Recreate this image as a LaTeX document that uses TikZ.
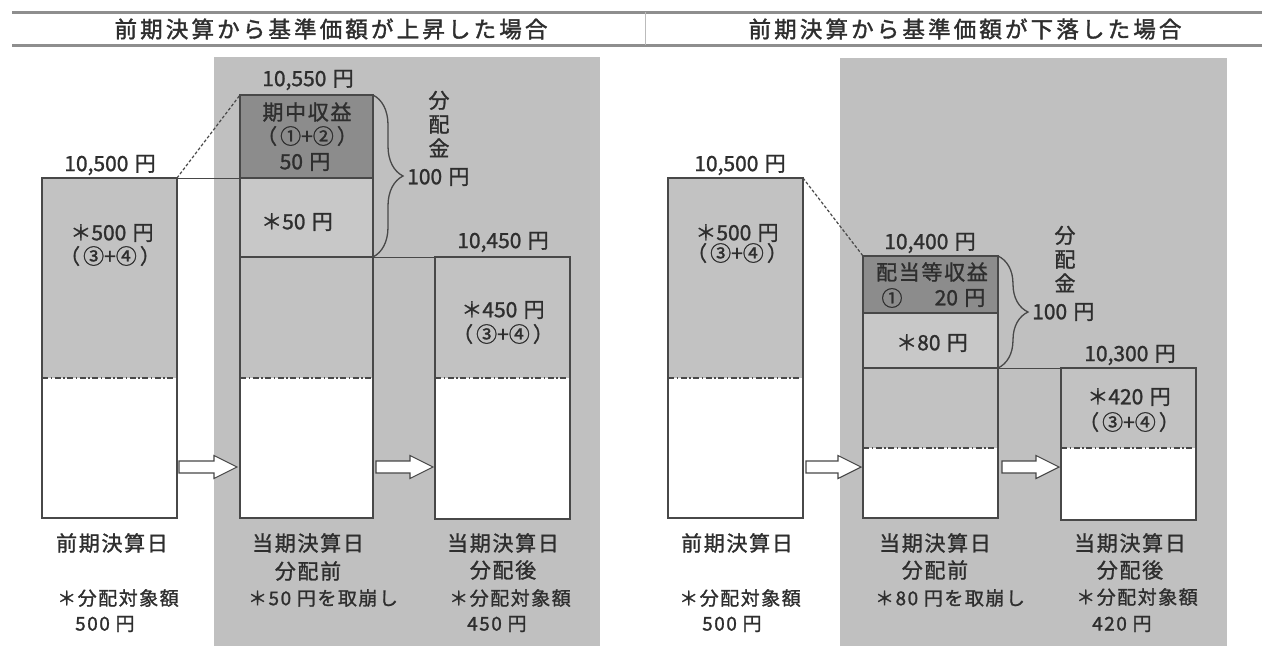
\documentclass[tikz,border=0pt]{standalone}
\usepackage{fontspec}
\setmainfont{Noto Sans CJK JP}[FakeBold=1.2]
\newfontfamily\lsfont[LetterSpace=8,FakeBold=1.2]{Noto Sans CJK JP}
\newfontfamily\hdfont[LetterSpace=14,FakeBold=1.6]{Noto Sans CJK JP}
\newcommand{\yn}{\hspace{0.3em}円}
\newcommand{\ppar}[1]{（\hspace{3pt}#1\hspace{3pt}）}
\usetikzlibrary{decorations.pathreplacing,calc}
\definecolor{bgg}{HTML}{C0C0C0}
\definecolor{boxg}{HTML}{C2C2C2}
\definecolor{lightg}{HTML}{C8C8C8}
\definecolor{darkg}{HTML}{8C8C8C}
\definecolor{linec}{HTML}{484848}
\definecolor{txt}{HTML}{2E2E2E}
\definecolor{rulec}{HTML}{8E8E8E}
\begin{document}
\begin{tikzpicture}[x=1pt,y=-1pt,
  seg/.style={inner sep=0pt,outer sep=0pt,anchor=north west,minimum width=135pt},
  outl/.style={draw=linec,line width=1.5pt},
  dd/.style={draw=linec,line width=1.5pt,dash pattern=on 6pt off 2.5pt on 1.5pt off 2.5pt},
  thinc/.style={draw=linec,line width=0.8pt},
  dotc/.style={draw=linec,line width=1.2pt,dash pattern=on 3pt off 2pt},
  brc/.style={draw=linec,line width=1.3pt,decorate,decoration={brace,amplitude=30pt}},
  t/.style={text=txt,inner sep=0pt,font=\fontsize{21}{24}\selectfont},
  tl/.style={text=txt,inner sep=0pt,font=\lsfont\fontsize{21}{24}\selectfont},
  ts/.style={text=txt,inner sep=0pt,font=\lsfont\fontsize{19}{22}\selectfont},
  hd/.style={text=txt,inner sep=0pt,font=\hdfont\fontsize{22.5}{26}\selectfont},
  barst/.style={draw=linec,fill=white,line width=1.1pt,line join=miter},
  pics/barrow/.style={code={\draw[barst] (0,-6)--({#1-23},-6)--({#1-23},-11.5)--(#1,0)--({#1-23},11.5)--({#1-23},6)--(0,6)--cycle;}}
]
\useasboundingbox (0,0) rectangle (1262,646);
\fill[white] (0,0) rectangle (1262,646);
% header
\draw[rulec,line width=3pt] (12,12) -- (1262,12);
\draw[rulec,line width=3pt] (12,45) -- (1262,45);
\draw[rulec!60,line width=1pt] (645,12) -- (645,45);
\node[hd] (h1) at (331,29) {前期決算から基準価額が上昇した場合};
\node[hd] (h2) at (965,29) {前期決算から基準価額が下落した場合};
% backgrounds
\fill[bgg] (214,57) rectangle (600,646);
\fill[bgg] (840,58) rectangle (1227,646);
% column A
\node[seg,fill=boxg,minimum height=200pt] (Aup) at (42,178) {};
\node[seg,fill=white,minimum height=140pt] (Alow) at (42,378) {};
\draw[dd] (Alow.north west) -- (Alow.north east);
\draw[outl] (Aup.north west) rectangle (Alow.south east);
% column B
\node[seg,fill=darkg,minimum width=133pt,minimum height=83pt] (Bdark) at (240,95) {};
\node[seg,fill=lightg,minimum width=133pt,minimum height=79pt] (Blight) at (240,178) {};
\node[seg,fill=boxg,minimum width=133pt,minimum height=121pt] (Bmid) at (240,257) {};
\node[seg,fill=white,minimum width=133pt,minimum height=140pt] (Blow) at (240,378) {};
\draw[dd] (Blow.north west) -- (Blow.north east);
\draw[outl] (Bdark.south west) -- (Bdark.south east);
\draw[outl] (Blight.south west) -- (Blight.south east);
\draw[outl] (Bdark.north west) rectangle (Blow.south east);
% column C
\node[seg,fill=boxg,minimum height=121pt] (Cup) at (435,257) {};
\node[seg,fill=white,minimum height=141pt] (Clow) at (435,378) {};
\draw[dd] (Clow.north west) -- (Clow.north east);
\draw[outl] (Cup.north west) rectangle (Clow.south east);
% column D
\node[seg,fill=boxg,minimum height=200pt] (Dup) at (668,178) {};
\node[seg,fill=white,minimum height=140pt] (Dlow) at (668,378) {};
\draw[dd] (Dlow.north west) -- (Dlow.north east);
\draw[outl] (Dup.north west) rectangle (Dlow.south east);
% column E
\node[seg,fill=darkg,minimum height=57pt] (Edark) at (863,256) {};
\node[seg,fill=lightg,minimum height=55pt] (Elight) at (863,313) {};
\node[seg,fill=boxg,minimum height=80pt] (Emid) at (863,368) {};
\node[seg,fill=white,minimum height=70pt] (Elow) at (863,448) {};
\draw[dd] (Elow.north west) -- (Elow.north east);
\draw[outl] (Edark.south west) -- (Edark.south east);
\draw[outl] (Elight.south west) -- (Elight.south east);
\draw[outl] (Edark.north west) rectangle (Elow.south east);
% column F
\node[seg,fill=boxg,minimum height=80pt] (Fup) at (1061,368) {};
\node[seg,fill=white,minimum height=72pt] (Flow) at (1061,448) {};
\draw[dd] (Flow.north west) -- (Flow.north east);
\draw[outl] (Fup.north west) rectangle (Flow.south east);
% connectors
\draw[dotc] (Aup.north east) -- (Bdark.north west);
\draw[thinc] (Aup.north east) -- (Blight.north west);
\draw[thinc] (Blight.south east) -- (Cup.north west);
\draw[dotc] (Dup.north east) -- (Edark.north west);
\draw[thinc] (Elight.south east) -- (Fup.north west);
\draw[brc] (Bdark.north east) -- (Blight.south east);
\draw[brc] (Edark.north east) -- (Elight.south east);
% arrows
\pic (ar1) at (179,467) {barrow=58};
\pic (ar2) at (376,467) {barrow=57};
\pic (ar3) at (806,467) {barrow=55};
\pic (ar4) at (1002,467) {barrow=57};
% texts left
\node[t] (v1) at (110,165) {10,500\yn};
\node[t] (a1) at (112,233) {＊500\yn};
\node[t] (a2) at (110,256) {\ppar{③+④}};
\node[t] (v2) at (308,80) {10,550\yn};
\node[tl] (b1) at (307,112) {期中収益};
\node[t] (b2) at (307,136) {\ppar{①+②}};
\node[t] (b3) at (305,162) {50\yn};
\node[t] (b4) at (297,222) {＊50\yn};
\node[t,align=center] (k1) at (439,124) {分\\配\\金};
\node[t,anchor=west] (k2) at (407,177) {100\yn};
\node[t] (v3) at (503,242) {10,450\yn};
\node[t] (c1) at (503,310) {＊450\yn};
\node[t] (c2) at (503,334) {\ppar{③+④}};
\node[tl] (l1) at (112,543) {前期決算日};
\node[ts] (l2) at (118,598) {＊分配対象額};
\node[ts,anchor=west] (l3) at (75,624) {500\yn};
\node[tl] (l4) at (308,543) {当期決算日};
\node[tl] (l5) at (308,571) {分配前};
\node[ts] (l6) at (323,598) {＊50\yn を取崩し};
\node[tl] (l7) at (503,543) {当期決算日};
\node[tl] (l8) at (503,570) {分配後};
\node[ts] (l9) at (510,598) {＊分配対象額};
\node[ts,anchor=west] (l10) at (467,624) {450\yn};
% texts right
\node[t] (w1) at (740,165) {10,500\yn};
\node[t] (d1) at (737,233) {＊500\yn};
\node[t] (d2) at (737,253) {\ppar{③+④}};
\node[t] (w2) at (930,243) {10,400\yn};
\node[tl] (e1) at (932,272) {配当等収益};
\node[t] (e2) at (892,298) {①};
\node[t] (e3) at (960,298) {20\yn};
\node[t] (e4) at (932,343) {＊80\yn};
\node[t,align=center] (m1) at (1065,259) {分\\配\\金};
\node[t,anchor=west] (m2) at (1032,312) {100\yn};
\node[t] (w3) at (1130,355) {10,300\yn};
\node[t] (f1) at (1129,397) {＊420\yn};
\node[t] (f2) at (1129,422) {\ppar{③+④}};
\node[tl] (r1) at (737,543) {前期決算日};
\node[ts] (r2) at (740,598) {＊分配対象額};
\node[ts,anchor=west] (r3) at (702,624) {500\yn};
\node[tl] (r4) at (935,543) {当期決算日};
\node[tl] (r5) at (935,570) {分配前};
\node[ts] (r6) at (950,598) {＊80\yn を取崩し};
\node[tl] (r7) at (1130,543) {当期決算日};
\node[tl] (r8) at (1130,570) {分配後};
\node[ts] (r9) at (1137,597) {＊分配対象額};
\node[ts,anchor=west] (r10) at (1092,624) {420\yn};
\end{tikzpicture}
\end{document}
